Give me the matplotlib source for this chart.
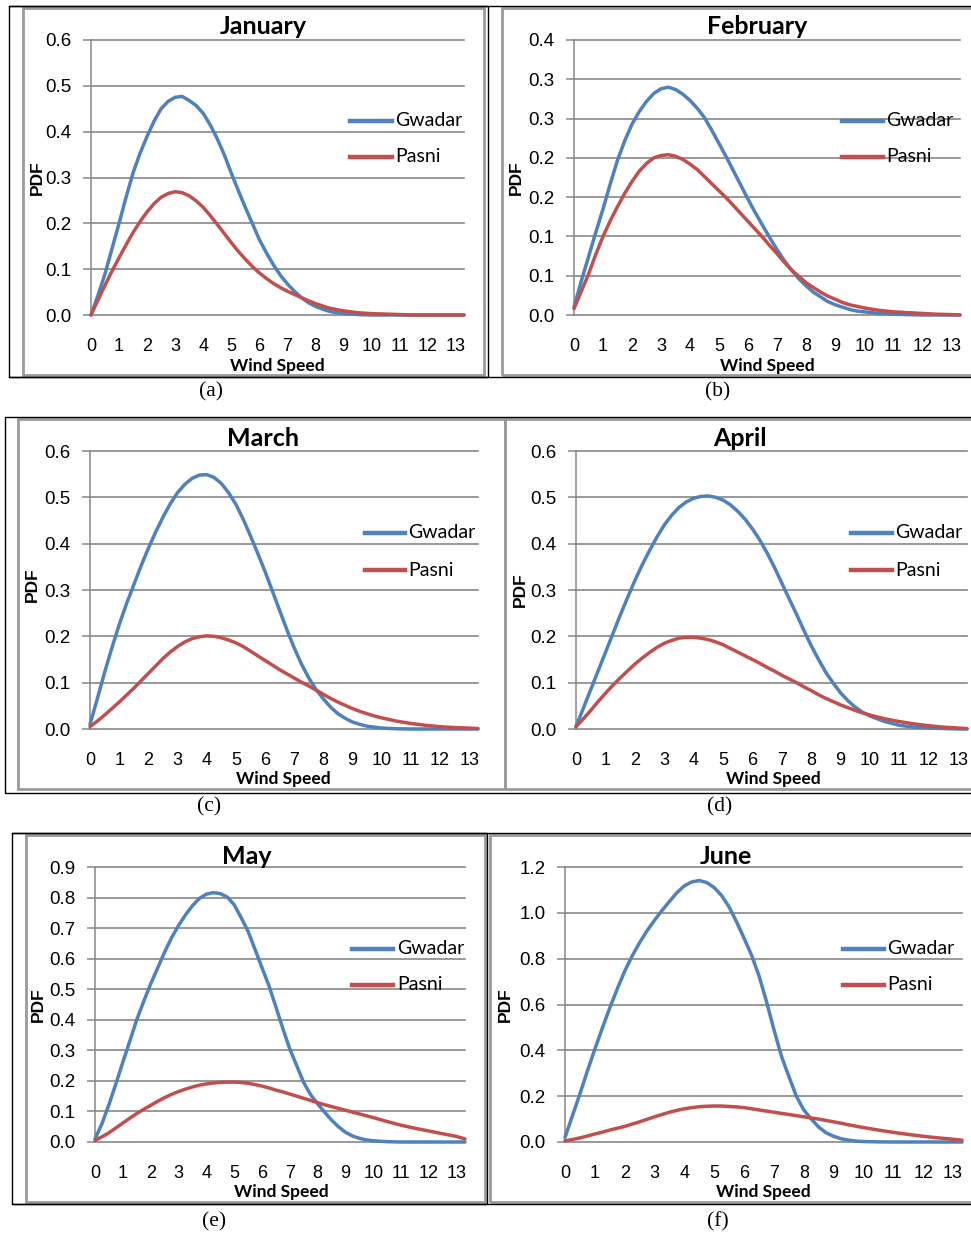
import numpy as np
import matplotlib
matplotlib.use('Agg')
import matplotlib.pyplot as plt
from matplotlib.lines import Line2D
from matplotlib.patches import Rectangle

plt.rcParams['font.family'] = ['Liberation Sans', 'DejaVu Sans']

# Wind speed (m/s) sample points
speed = [0, 0.25, 0.5, 0.75, 1, 1.25, 1.5, 1.75, 2, 2.25, 2.5, 2.75, 3, 3.25, 3.5, 3.75,
         4, 4.25, 4.5, 4.75, 5, 5.25, 5.5, 5.75, 6, 6.25, 6.5, 6.75, 7, 7.25, 7.5, 7.75,
         8, 8.25, 8.5, 8.75, 9, 9.25, 9.5, 9.75, 10,
         10.5, 11, 11.5, 12, 12.5, 13, 13.3]

months = ['January', 'February', 'March', 'April', 'May', 'June']
captions = ['(a)', '(b)', '(c)', '(d)', '(e)', '(f)']
series_names = ['Gwadar', 'Pasni']

gwadar_jan = [0, .043, .09, .145, .20, .257, .31, .353, .39, .423, .45, .466,
              .475, .477, .468, .457, .44, .415, .385, .35, .31, .272, .235, .2,
              .165, .136, .11, .087, .068, .052, .038, .027, .019, .013, .008, .005,
              .003, .002, .001, .0005, 0,
              0, 0, 0, 0, 0, 0, 0]
pasni_jan = [0, .033, .065, .096, .125, .153, .18, .204, .225, .243, .257, .265,
             .269, .267, .26, .249, .235, .217, .198, .178, .158, .139, .122, .106,
             .092, .08, .069, .06, .052, .045, .038, .031, .025, .02, .015, .012,
             .009, .007, .005, .004, .003,
             .002, .001, 0, 0, 0, 0, 0]

gwadar_feb = [.01, .043, .074, .105, .135, .167, .197, .222, .243, .259, .272, .282,
              .288, .29, .287, .281, .273, .263, .251, .235, .218, .201, .183, .165,
              .147, .13, .114, .098, .083, .069, .057, .046, .037, .029, .023, .017,
              .013, .01, .007, .005, .004,
              .002, .001, .0005, 0, 0, 0, 0]
pasni_feb = [.008, .03, .052, .077, .1, .12, .138, .155, .17, .183, .193, .2,
             .203, .204, .202, .198, .192, .185, .176, .167, .158, .149, .139, .129,
             .119, .109, .099, .088, .078, .067, .057, .049, .041, .035, .029, .024,
             .02, .016, .013, .011, .009,
             .006, .004, .003, .002, .001, .0005, 0]

gwadar_mar = [.01, .065, .122, .175, .225, .27, .311, .352, .39, .425, .457, .486,
              .51, .528, .541, .548, .549, .543, .53, .51, .485, .453, .417, .379,
              .34, .298, .256, .214, .175, .14, .11, .085, .065, .047, .033, .023,
              .015, .01, .006, .004, .002,
              .0005, 0, 0, 0, 0, 0, 0]
pasni_mar = [.005, .017, .03, .044, .058, .073, .088, .104, .12, .136, .152, .166,
             .178, .188, .195, .199, .201, .2, .197, .192, .186, .178, .168, .158,
             .148, .138, .128, .119, .11, .101, .093, .084, .075, .066, .058, .051,
             .044, .038, .033, .028, .024,
             .017, .012, .008, .005, .003, .002, .001]

gwadar_apr = [.005, .045, .085, .125, .165, .205, .245, .283, .32, .354, .385, .414,
              .44, .461, .478, .49, .498, .502, .503, .5, .494, .484, .47, .453,
              .432, .408, .38, .349, .315, .281, .248, .213, .18, .15, .122, .099,
              .078, .061, .047, .036, .028,
              .016, .008, .004, .002, .001, 0, 0]
pasni_apr = [.005, .022, .04, .059, .077, .094, .11, .125, .14, .153, .165, .176,
             .185, .191, .196, .198, .198, .196, .193, .188, .182, .174, .166, .158,
             .15, .142, .133, .125, .116, .108, .1, .091, .083, .074, .066, .059,
             .052, .046, .04, .035, .03,
             .022, .016, .011, .007, .004, .002, .001]

gwadar_may = [.01, .06, .122, .19, .261, .33, .4, .46, .517, .569, .621, .668,
              .708, .743, .773, .797, .811, .816, .813, .802, .777, .735, .69, .631,
              .571, .512, .443, .372, .305, .25, .195, .155, .125, .098, .072, .05,
              .032, .02, .012, .007, .004,
              .001, 0, 0, 0, 0, 0, 0]
pasni_may = [.005, .017, .03, .046, .062, .078, .093, .107, .12, .133, .145, .156,
             .165, .173, .18, .186, .19, .193, .195, .196, .196, .195, .192, .188,
             .183, .177, .17, .164, .157, .15, .143, .136, .129, .122, .116, .11,
             .104, .098, .092, .086, .08,
             .067, .055, .045, .036, .027, .018, .01]

gwadar_jun = [.02, .115, .21, .31, .405, .497, .585, .668, .745, .812, .87, .922,
              .968, 1.01, 1.05, 1.088, 1.118, 1.135, 1.141, 1.132, 1.11, 1.075, 1.025, .96,
              .889, .815, .725, .613, .49, .375, .286, .2, .14, .1, .065, .04,
              .025, .014, .008, .004, .002,
              .0005, 0, 0, 0, 0, 0, 0]
pasni_jun = [.005, .011, .018, .026, .035, .043, .052, .06, .068, .078, .088, .099,
             .11, .12, .13, .138, .145, .15, .154, .156, .157, .157, .155, .153,
             .15, .145, .14, .135, .13, .125, .12, .115, .11, .105, .1, .094,
             .088, .082, .075, .069, .063,
             .052, .042, .033, .025, .018, .012, .008]

# y axis ticks / labels (Feb uses 0.05 steps shown with one decimal, as in the original)
yticks_06 = [0, 0.1, 0.2, 0.3, 0.4, 0.5, 0.6]
ylabels_06 = ['0.0', '0.1', '0.2', '0.3', '0.4', '0.5', '0.6']
yticks_feb = [0, 0.05, 0.10, 0.15, 0.20, 0.25, 0.30, 0.35]
ylabels_feb = ['0.0', '0.1', '0.1', '0.2', '0.2', '0.3', '0.3', '0.4']
yticks_may = [0, 0.1, 0.2, 0.3, 0.4, 0.5, 0.6, 0.7, 0.8, 0.9]
ylabels_may = ['0.0', '0.1', '0.2', '0.3', '0.4', '0.5', '0.6', '0.7', '0.8', '0.9']
yticks_jun = [0, 0.2, 0.4, 0.6, 0.8, 1.0, 1.2]
ylabels_jun = ['0.0', '0.2', '0.4', '0.6', '0.8', '1.0', '1.2']
xticks = list(range(14))

gwadar = [gwadar_jan, gwadar_feb, gwadar_mar, gwadar_apr, gwadar_may, gwadar_jun]
pasni = [pasni_jan, pasni_feb, pasni_mar, pasni_apr, pasni_may, pasni_jun]
yticks = [yticks_06, yticks_feb, yticks_06, yticks_06, yticks_may, yticks_jun]
ylabels = [ylabels_06, ylabels_feb, ylabels_06, ylabels_06, ylabels_may, ylabels_jun]

W, H = 971, 1235
BLUE = '#4F81BD'
RED = '#C0504D'
GRID = '#878787'

# layout in pixels: plot box (l, t, r, b), title xy, PDF xy, Wind Speed (x, baseline y),
# legend (line x0, x1, text x, y1, y2), caption xy
layout = [
    dict(box=(91, 40, 464, 315), title=(263, 27), pdf=(37, 178), ws=(277, 371),
         leg=(350, 392, 395, 121, 157), cap=(211, 392)),
    dict(box=(574, 40, 960, 315), title=(757, 27), pdf=(516, 178), ws=(767, 371),
         leg=(842, 883, 886, 121, 157), cap=(718, 392)),
    dict(box=(90, 451, 478, 729), title=(263, 439), pdf=(32, 585), ws=(283, 784),
         leg=(365, 405, 408, 533, 570), cap=(209, 807)),
    dict(box=(576, 451, 967, 729), title=(740, 439), pdf=(520, 590), ws=(773, 784),
         leg=(851, 892, 895, 533, 570), cap=(720, 807)),
    dict(box=(95, 867, 465, 1142), title=(247, 856), pdf=(38, 1005), ws=(281, 1197),
         leg=(352, 393, 397, 949, 985), cap=(214, 1222)),
    dict(box=(565, 867, 962, 1142), title=(726, 856), pdf=(505, 1005), ws=(763, 1197),
         leg=(843, 884, 887, 949, 985), cap=(718, 1222)),
]

fig = plt.figure(figsize=(W / 100, H / 100), dpi=100)


def fx(x):
    return x / W


def fy(y):
    return 1 - y / H


def frame(l, t, r, b, color, lw):
    fig.add_artist(Rectangle((fx(l), fy(b)), (r - l) / W, (b - t) / H,
                             transform=fig.transFigure, fill=False,
                             edgecolor=color, linewidth=lw))


def hline(y, x0, x1, color, lw):
    fig.add_artist(Line2D([fx(x0), fx(x1)], [fy(y), fy(y)], color=color, lw=lw,
                          transform=fig.transFigure))


# chart borders (grey Excel chart area inside black picture frame)
frame(23, 8, 484, 375, '#9a9a9a', 2.0)
frame(502, 8, 978, 375, '#9a9a9a', 2.0)
frame(9, 6, 488, 377, 'black', 1.0)
hline(6, 9, 971, 'black', 1.0)
hline(377, 9, 971, 'black', 1.0)

frame(18, 419, 505, 789, '#9a9a9a', 2.0)
frame(505, 419, 978, 789, '#9a9a9a', 2.0)
frame(5, 417, 978, 793, 'black', 1.0)

frame(26, 835, 485, 1202, '#9a9a9a', 2.0)
frame(490, 835, 978, 1202, '#9a9a9a', 2.0)
frame(12, 833, 487, 1204, 'black', 1.0)
hline(833, 12, 971, 'black', 1.0)
hline(1204, 12, 971, 'black', 1.0)

for i, lay in enumerate(layout):
    l, t, r, b = lay['box']
    ax = fig.add_axes([fx(l), fy(b), (r - l) / W, (b - t) / H])
    ax.set_facecolor('none')
    ax.plot(speed, gwadar[i], color=BLUE, lw=2.5, solid_capstyle='round',
            solid_joinstyle='round', clip_on=False, zorder=3)
    ax.plot(speed, pasni[i], color=RED, lw=2.5, solid_capstyle='round',
            solid_joinstyle='round', clip_on=False, zorder=3)
    ax.set_xlim(0, 13.3)
    ax.set_ylim(0, yticks[i][-1])
    ax.set_xticks(xticks)
    ax.set_xticklabels([str(v) for v in xticks])
    ax.set_yticks(yticks[i])
    ax.set_yticklabels(ylabels[i])
    ax.tick_params(axis='x', length=0, pad=16.5, labelsize=13)
    ax.tick_params(axis='y', length=6, width=1.1, color=GRID, pad=8, labelsize=13.5)
    ax.grid(axis='y', color=GRID, lw=1.2)
    ax.set_axisbelow(True)
    for gl in ax.get_ygridlines():
        gl.set_clip_on(False)
    for side in ['top', 'right', 'bottom']:
        ax.spines[side].set_visible(False)
    ax.spines['left'].set_color(GRID)
    ax.spines['left'].set_linewidth(1.1)

    fig.text(fx(lay['title'][0]), fy(lay['title'][1]), months[i], ha='center', va='center',
             fontsize=18, fontweight='bold', family=['Lato', 'DejaVu Sans'])
    fig.text(fx(lay['pdf'][0]), fy(lay['pdf'][1]), 'PDF', ha='center', va='center',
             rotation=90, fontsize=12.5, fontweight='bold')
    fig.text(fx(lay['ws'][0]), fy(lay['ws'][1]), 'Wind Speed', ha='center', va='baseline',
             fontsize=12.5, fontweight='bold', family=['Lato', 'DejaVu Sans'])

    x0, x1, xt, y1, y2 = lay['leg']
    for name, color, yy in zip(series_names, [BLUE, RED], [y1, y2]):
        fig.add_artist(Line2D([fx(x0), fx(x1)], [fy(yy), fy(yy)], color=color, lw=3.2,
                              transform=fig.transFigure))
        fig.text(fx(xt), fy(yy), name, ha='left', va='center', fontsize=14,
                 family=['Lato', 'DejaVu Sans'])

    fig.text(fx(lay['cap'][0]), fy(lay['cap'][1]), captions[i], ha='center', va='center',
             fontsize=15.5, family=['Liberation Serif', 'DejaVu Serif'])

fig.savefig('out.png', dpi=100)
